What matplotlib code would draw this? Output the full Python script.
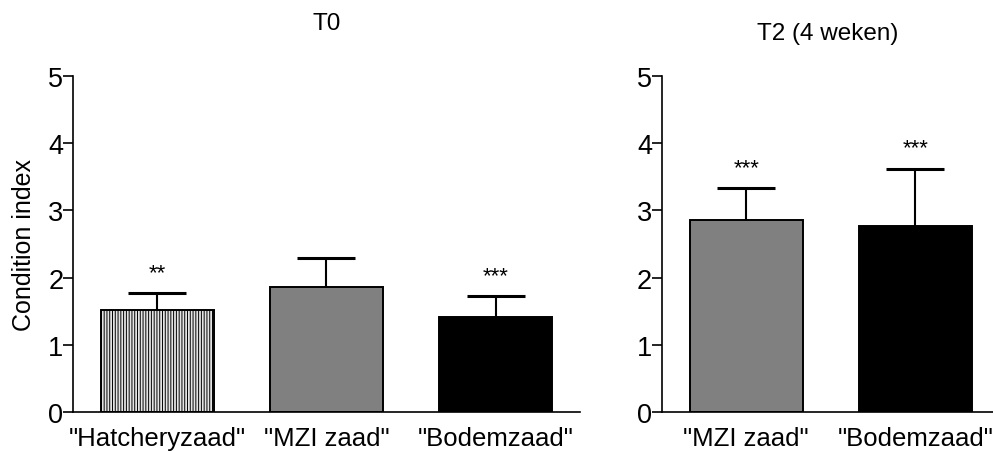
import matplotlib.pyplot as plt
import numpy as np

plt.rcParams['font.family'] = ['Liberation Sans', 'DejaVu Sans']
plt.rcParams['hatch.color'] = '#8c8c8c'
plt.rcParams['hatch.linewidth'] = 0.7

# T0 data
t0_labels = ['"Hatcheryzaad"', '"MZI zaad"', '"Bodemzaad"']
t0_means = [1.52, 1.86, 1.42]
t0_err = [0.25, 0.43, 0.30]
t0_stars = ['**', '', '***']

# T2 data
t2_labels = ['"MZI zaad"', '"Bodemzaad"']
t2_means = [2.85, 2.77]
t2_err = [0.48, 0.85]
t2_stars = ['***', '***']

fig = plt.figure(figsize=(9.93, 4.52), dpi=100)
ax1 = fig.add_axes([0.0735, 0.0863, 0.5106, 0.7433])
ax2 = fig.add_axes([0.6664, 0.0863, 0.3336, 0.7433])


def draw(ax, labels, means, err, stars, colors, hatches, title, xmax, pad):
    x = np.arange(len(labels))
    for i in range(len(labels)):
        ax.bar(x[i], means[i], width=0.67, color=colors[i], edgecolor='black',
               linewidth=1.4, hatch=hatches[i], zorder=2)
        eb = ax.errorbar(x[i], means[i], yerr=[[0], [err[i]]], fmt='none',
                         ecolor='black', elinewidth=1.5, capsize=21, capthick=2.2, zorder=3)
        eb[1][0].remove()  # no lower cap
        if stars[i]:
            ax.text(x[i], means[i] + err[i] + 0.15, stars[i], ha='center',
                    va='bottom', fontsize=16)
    ax.set_xlim(-0.5, xmax)
    ax.set_ylim(0, 5)
    ax.set_yticks(range(6))
    ax.set_xticks(x)
    ax.set_xticklabels(labels, fontsize=18.5)
    ax.tick_params(axis='x', length=0, pad=10)
    ax.tick_params(axis='y', direction='out', length=7, width=1.2, labelsize=19.5, pad=0)
    for s in ['top', 'right']:
        ax.spines[s].set_visible(False)
    for s in ['left', 'bottom']:
        ax.spines[s].set_linewidth(1.2)
    ax.set_title(title, fontsize=17.5, pad=pad)


draw(ax1, t0_labels, t0_means, t0_err, t0_stars,
     ['#e4e4e4', '#808080', 'black'], ['|' * 6, None, None], 'T0', 2.5, 34)
draw(ax2, t2_labels, t2_means, t2_err, t2_stars,
     ['#808080', 'black'], [None, None], 'T2 (4 weken)', 1.46, 27)

ax1.set_ylabel('Condition index', fontsize=18, labelpad=9)

plt.savefig('out.png', dpi=100)
